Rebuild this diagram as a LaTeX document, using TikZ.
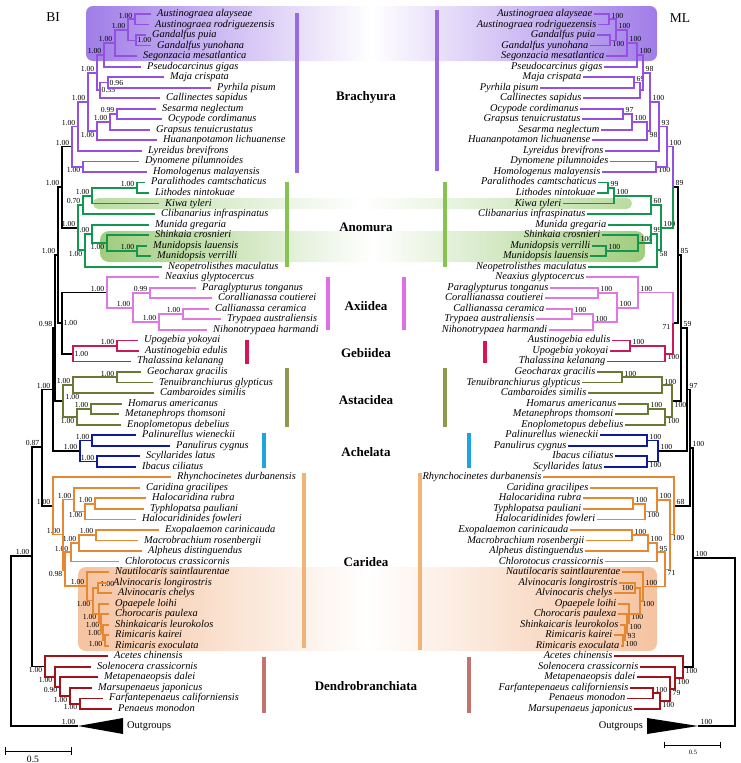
\documentclass[tikz,border=0pt]{standalone}
\usepackage{fontspec}
\setmainfont{Liberation Serif}

\definecolor{cBra}{RGB}{150,80,225}
\definecolor{cAno}{RGB}{20,150,80}
\definecolor{cAxi}{RGB}{225,120,225}
\definecolor{cGeb}{RGB}{200,25,90}
\definecolor{cAst}{RGB}{105,120,50}
\definecolor{cAch}{RGB}{15,25,160}
\definecolor{cCar}{RGB}{230,135,50}
\definecolor{cDen}{RGB}{160,20,25}
\definecolor{barBra}{RGB}{155,105,225}
\definecolor{barAno}{RGB}{135,195,80}
\definecolor{barAxi}{RGB}{225,110,230}
\definecolor{barGeb}{RGB}{215,20,90}
\definecolor{barAst}{RGB}{140,155,75}
\definecolor{barAch}{RGB}{30,165,225}
\definecolor{barCar}{RGB}{240,180,120}
\definecolor{barDen}{RGB}{195,115,110}
\definecolor{boxP}{RGB}{160,125,232}
\definecolor{boxK}{RGB}{185,220,160}
\definecolor{boxS}{RGB}{160,205,125}
\definecolor{boxC}{RGB}{245,195,160}

% internal node of a tree: name, x, y, label place, support value
\newcommand{\inode}[5]{\coordinate (#1) at (#2,#3); \node[lbl,#4] (#1-l) at (#1) {#5};}

\begin{document}
\begin{tikzpicture}[x=1pt,y=-1pt]
\tikzstyle{leafL}=[anchor=west,inner xsep=6pt,inner ysep=0pt,text height=7pt,text depth=2pt,font=\fontsize{10.4}{11}\selectfont\itshape]
\tikzstyle{leafR}=[anchor=east,inner xsep=1.5pt,inner ysep=0pt,text height=7pt,text depth=2pt,font=\fontsize{10.4}{11}\selectfont\itshape]
\tikzstyle{lbl}=[inner sep=0.5pt,font=\fontsize{7.7}{8}\selectfont]
\tikzstyle{lAL}=[anchor=south east,xshift=-2pt,yshift=0.4pt]
\tikzstyle{lBL}=[anchor=north east,xshift=-2pt,yshift=-0.4pt]
\tikzstyle{lAR}=[anchor=south west,xshift=2pt,yshift=0.4pt]
\tikzstyle{lBR}=[anchor=north west,xshift=2pt,yshift=-0.4pt]
\tikzstyle{lR}=[anchor=west,xshift=1pt]
\tikzstyle{lL}=[anchor=east,xshift=-1pt]
\tikzstyle{branch}=[line width=1.8pt]
\tikzstyle{bar}=[line width=4pt]
\tikzstyle{clade}=[font=\fontsize{13}{14}\selectfont\bfseries]
\tikzstyle{ttl}=[font=\fontsize{13.5}{15}\selectfont]
\tikzstyle{outg}=[inner sep=0pt,font=\fontsize{10.4}{11}\selectfont]

\useasboundingbox (0,0) rectangle (740,763);

% highlighted groups
\path[left color=boxP,right color=boxP,middle color=white,rounded corners=7pt] (86,6) rectangle (657,61);
\path[left color=boxK,right color=boxK,middle color=white,rounded corners=5.5pt] (93,198) rectangle (632,209);
\path[left color=boxS,right color=boxS,middle color=white,rounded corners=9pt] (100,231) rectangle (645,262);
\path[left color=boxC,right color=boxC,middle color=white,rounded corners=8pt] (78,567) rectangle (657,651);

% clade bars and names
\draw[bar,barBra] (297,13) -- (297,173);  \draw[bar,barBra] (437,10) -- (437,171);
\draw[bar,barAno] (287,182) -- (287,267); \draw[bar,barAno] (445,182) -- (445,267);
\draw[bar,barAxi] (328,277) -- (328,330); \draw[bar,barAxi] (404,277) -- (404,330);
\draw[bar,barGeb] (247,340) -- (247,364); \draw[bar,barGeb] (485,341) -- (485,363);
\draw[bar,barAst] (287,368) -- (287,427); \draw[bar,barAst] (445,368) -- (445,427);
\draw[bar,barAch] (264,433) -- (264,468); \draw[bar,barAch] (469,433) -- (469,468);
\draw[bar,barCar] (304,473) -- (304,648); \draw[bar,barCar] (420,473) -- (420,650);
\draw[bar,barDen] (264,657) -- (264,713); \draw[bar,barDen] (469,657) -- (469,713);
\node[clade] (nBra) at (366,97) {Brachyura};
\node[clade] (nAno) at (366,227) {Anomura};
\node[clade] (nAxi) at (366,306) {Axiidea};
\node[clade] (nGeb) at (366,353) {Gebiidea};
\node[clade] (nAst) at (366,400) {Astacidea};
\node[clade] (nAch) at (366,452) {Achelata};
\node[clade] (nCar) at (366,562) {Caridea};
\node[clade] (nDen) at (366,686) {Dendrobranchiata};
\node[ttl] (tBI) at (53,17) {BI};
\node[ttl] (tML) at (680,18) {ML};

% BI taxa
\foreach \n/\x/\t [count=\i] in {L1/151/Austinograea alayseae, L2/149/Austinograea rodriguezensis, L3/146/Gandalfus puia,
  L4/151/Gandalfus yunohana, L5/137/Segonzacia mesatlantica, L6/141/Pseudocarcinus gigas, L7/164/Maja crispata,
  L8/211/Pyrhila pisum, L9/160/Callinectes sapidus, L10/156/Sesarma neglectum, L11/162/Ocypode cordimanus,
  L12/150/Grapsus tenuicrustatus, L13/157/Huananpotamon lichuanense, L14/142/Lyreidus brevifrons,
  L15/139/Dynomene pilumnoides, L16/147/Homologenus malayensis, L17/145/Paralithodes camtschaticus,
  L18/149/Lithodes nintokuae, L19/159/Kiwa tyleri, L20/155/Clibanarius infraspinatus, L21/149/Munida gregaria,
  L22/149/Shinkaia crosnieri, L23/147/Munidopsis lauensis, L24/151/Munidopsis verrilli,
  L25/162/Neopetrolisthes maculatus, L26/159/Neaxius glyptocercus, L27/196/Paraglypturus tonganus,
  L28/212/Corallianassa coutierei, L29/209/Callianassa ceramica, L30/221/Trypaea australiensis,
  L31/207/Nihonotrypaea harmandi, L32/138/Upogebia yokoyai, L33/139/Austinogebia edulis, L34/131/Thalassina kelanang,
  L35/141/Geocharax gracilis, L36/153/Tenuibranchiurus glypticus, L37/154/Cambaroides similis,
  L38/122/Homarus americanus, L39/119/Metanephrops thomsoni, L40/121/Enoplometopus debelius,
  L41/136/Palinurellus wieneckii, L42/170/Panulirus cygnus, L43/140/Scyllarides latus, L44/136/Ibacus ciliatus,
  L45/171/Rhynchocinetes durbanensis, L46/140/Caridina gracilipes, L47/146/Halocaridina rubra,
  L48/144/Typhlopatsa pauliani, L49/136/Halocaridinides fowleri, L50/159/Exopalaemon carinicauda,
  L51/138/Macrobrachium rosenbergii, L52/142/Alpheus distinguendus, L53/119/Chlorotocus crassicornis,
  L54/109/Nautilocaris saintlaurentae, L55/107/Alvinocaris longirostris, L56/112/Alvinocaris chelys,
  L57/109/Opaepele loihi, L58/109/Chorocaris paulexa, L59/109/Shinkaicaris leurokolos, L60/109/Rimicaris kairei,
  L61/109/Rimicaris exoculata, L62/108/Acetes chinensis, L63/91/Solenocera crassicornis,
  L64/98/Metapenaeopsis dalei, L65/92/Marsupenaeus japonicus, L66/103/Farfantepenaeus californiensis,
  L67/112/Penaeus monodon}
  \node[leafL] (\n) at (\x,{3.47+10.53*\i}) {\t};

% ML taxa
\foreach \n/\x/\t [count=\i] in {R1/594/Austinograea alayseae, R2/598/Austinograea rodriguezensis, R3/597/Gandalfus puia,
  R4/590/Gandalfus yunohana, R5/606/Segonzacia mesatlantica, R6/604/Pseudocarcinus gigas, R7/583/Maja crispata,
  R8/540/Pyrhila pisum, R9/583/Callinectes sapidus, R10/580/Ocypode cordimanus, R11/582/Grapsus tenuicrustatus,
  R12/601/Sesarma neglectum, R13/592/Huananpotamon lichuanense, R14/605/Lyreidus brevifrons,
  R15/610/Dynomene pilumnoides, R16/602/Homologenus malayensis, R17/598/Paralithodes camtschaticus,
  R18/597/Lithodes nintokuae, R19/563/Kiwa tyleri, R20/587/Clibanarius infraspinatus, R21/608/Munida gregaria,
  R22/602/Shinkaia crosnieri, R23/592/Munidopsis verrilli, R24/590/Munidopsis lauensis,
  R25/588/Neopetrolisthes maculatus, R26/586/Neaxius glyptocercus, R27/550/Paraglypturus tonganus,
  R28/545/Corallianassa coutierei, R29/546/Callianassa ceramica, R30/536/Trypaea australiensis,
  R31/549/Nihonotrypaea harmandi, R32/612/Austinogebia edulis, R33/610/Upogebia yokoyai, R34/607/Thalassina kelanang,
  R35/597/Geocharax gracilis, R36/582/Tenuibranchiurus glypticus, R37/588/Cambaroides similis,
  R38/618/Homarus americanus, R39/615/Metanephrops thomsoni, R40/625/Enoplometopus debelius,
  R41/600/Palinurellus wieneckii, R42/568/Panulirus cygnus, R43/615/Ibacus ciliatus, R44/604/Scyllarides latus,
  R45/543/Rhynchocinetes durbanensis, R46/590/Caridina gracilipes, R47/583/Halocaridina rubra,
  R48/583/Typhlopatsa pauliani, R49/597/Halocaridinides fowleri, R50/570/Exopalaemon carinicauda,
  R51/586/Macrobrachium rosenbergii, R52/585/Alpheus distinguendus, R53/605/Chlorotocus crassicornis,
  R54/622/Nautilocaris saintlaurentae, R55/619/Alvinocaris longirostris, R56/614/Alvinocaris chelys,
  R57/618/Opaepele loihi, R58/618/Chorocaris paulexa, R59/620/Shinkaicaris leurokolos, R60/614/Rimicaris kairei,
  R61/621/Rimicaris exoculata, R62/614/Acetes chinensis, R63/640/Solenocera crassicornis,
  R64/637/Metapenaeopsis dalei, R65/630/Farfantepenaeus californiensis, R66/627/Penaeus monodon,
  R67/634/Marsupenaeus japonicus}
  \node[leafR] (\n) at (\x,{3.47+10.53*\i}) {\t};

% BI nodes
\coordinate (broot) at (11,641);
\inode{bING}{32}{556}{lAL}{1.00}
\inode{bC}{42}{447}{lAL}{0.87}
\inode{bD}{53}{389.5}{lAL}{1.00}
\inode{bP2}{55}{328}{lAL}{0.98}
\inode{bP1}{58}{255}{lAL}{1.00}
\inode{bA}{62}{187}{lAL}{1.00}
\inode{bAG}{62}{323}{lR}{1.00}
\inode{bOut}{78}{726}{lAL}{1.00}
\inode{bBra}{72}{146.5}{lAL}{1.00}
\inode{b1_14}{78}{126.4}{lAL}{1.00}
\inode{b1516}{83}{166.7}{lBL}{1.00}
\inode{b1_13}{88}{101.9}{lAL}{1.00}
\inode{b1_9}{97}{72.6}{lAL}{1.00}
\inode{b10_13}{97}{131.2}{lBL}{1.00}
\inode{b1_6}{104}{54.8}{lAL}{1.00}
\inode{b7_9}{100}{90.3}{lR}{0.55}
\inode{b1_5}{115}{43}{lAL}{1.00}
\inode{b1234}{128}{29.8}{lAL}{1.00}
\inode{b12}{135}{19.3}{lAL}{1.00}
\inode{b34}{136}{40.4}{lR}{1.00}
\inode{b78}{108}{82.5}{lR}{0.96}
\inode{b10_12}{110}{122}{lAL}{1.00}
\inode{b1011}{117}{114}{lAL}{0.99}
\inode{aAno}{78}{227.6}{lAL}{1.00}
\inode{a17_20}{83}{204.9}{lAL}{0.70}
\inode{a17_19}{92}{195.6}{lAL}{1.00}
\inode{a1718}{137}{187.8}{lAL}{1.00}
\inode{a21_25}{85}{250.3}{lBL}{1.00}
\inode{a21_24}{92}{233.8}{lAL}{1.00}
\inode{a22_24}{107}{243}{lBL}{1.00}
\inode{a2324}{137}{251}{lAL}{1.00}
\inode{xAxi}{107}{292.4}{lAL}{1.00}
\inode{x27_31}{133}{307.6}{lAL}{1.00}
\inode{x2728}{150}{293}{lAL}{0.99}
\inode{x29_31}{159}{322.2}{lAL}{1.00}
\inode{x2930}{183}{314.1}{lAL}{1.00}
\inode{gGeb}{73}{353.6}{lR}{1.00}
\inode{g3233}{117}{345.7}{lAL}{1.00}
\inode{tAst}{63}{401}{lAR}{1.00}
\inode{t35_37}{73}{385.2}{lAL}{1.00}
\inode{t3536}{117}{377.3}{lAL}{1.00}
\inode{t38_40}{77}{417}{lBL}{1.00}
\inode{t3839}{91}{408.9}{lAL}{1.00}
\inode{hAch}{80}{451}{lAL}{1.00}
\inode{h4142}{92}{440.5}{lAL}{1.00}
\inode{h4344}{97}{461.5}{lAL}{1.00}
\inode{cCar}{53}{506}{lAL}{1.00}
\inode{cN}{63}{534.5}{lAL}{1.00}
\inode{cAty}{74}{499.4}{lAL}{1.00}
\inode{c47_49}{85}{511.5}{lBL}{1.00}
\inode{c4748}{95}{503.7}{lAL}{1.00}
\inode{cM}{65}{569.8}{lBL}{0.98}
\inode{cPal}{71}{552.3}{lAL}{1.00}
\inode{c50_52}{79}{543.1}{lAL}{1.00}
\inode{c5051}{96}{535.2}{lAL}{1.00}
\inode{cAlv}{87}{586}{lAL}{1.00}
\inode{cX}{93}{600.5}{lBL}{1.00}
\inode{c5556}{98}{587.9}{lAR}{1.00}
\inode{c57_61}{99}{613.6}{lBL}{1.00}
\inode{c58_61}{101}{623.4}{lL,yshift=-1.6pt}{1.00}
\inode{c59_61}{103}{632.6}{lL,yshift=-0.8pt}{1.00}
\inode{c6061}{105}{640.5}{lBL}{1.00}
\inode{dDen}{45}{666.5}{lBL}{1.00}
\inode{d63_67}{55}{676.7}{lBL}{1.00}
\inode{d64_67}{60}{686.6}{lBL}{0.90}
\inode{d65_67}{70}{695.8}{lBL}{1.00}
\inode{d6667}{80}{703.7}{lBL}{1.00}

% ML nodes
\coordinate (rroot) at (735,641);
\inode{rING}{693}{558}{lAR}{100}
\inode{rC}{690}{447.8}{lAR}{100}
\inode{rD}{687}{389.5}{lAR}{97}
\inode{rP2}{681}{328}{lAR}{59}
\inode{rP1}{678}{255}{lAR}{85}
\inode{rBA}{673}{187}{lAR}{89}
\inode{rAG}{673}{323}{lBL}{71}
\inode{rOut}{698}{726}{lAR}{100}
\inode{rBra}{667}{146.5}{lAR}{100}
\inode{r1_14}{659}{126.4}{lAR}{93}
\inode{r1516}{656}{166.7}{lBR}{100}
\inode{r1_13}{650}{101.9}{lAR}{100}
\inode{r1_9}{643}{72.6}{lAR}{98}
\inode{r10_13}{647}{131.2}{lBR}{98}
\inode{r1_6}{637}{54.8}{lAR}{100}
\coordinate (r7_9) at (640,90.3);
\inode{r1_5}{627}{43}{lAR}{100}
\inode{r1_4}{616}{29.8}{lAR}{100}
\inode{r12}{609}{19.3}{lAR}{100}
\inode{r34}{610}{40.4}{lBR}{100}
\inode{r78}{634}{82.5}{lAR}{69}
\inode{r10_12}{632}{122}{lAR}{100}
\inode{r1011}{623}{114}{lAR}{97}
\inode{rAno}{661}{227.6}{lAR}{100}
\inode{r17_20}{651}{204.9}{lAR}{60}
\inode{r17_19}{614}{195.6}{lAR}{100}
\inode{r1718}{608}{187.8}{lAR}{99}
\inode{r21_25}{657}{250.3}{lBR}{58}
\inode{r21_24}{651}{233.8}{lAR}{99}
\inode{r22_24}{638}{243}{lAR}{100}
\inode{r2324}{606}{251}{lAR}{100}
\inode{rAxi}{638}{292.4}{lAR}{100}
\inode{r27_31}{617}{307.6}{lAR}{100}
\inode{r2728}{598}{293}{lAR}{100}
\inode{r29_31}{593}{322.2}{lAR}{100}
\inode{r2930}{572}{314.1}{lAR}{100}
\inode{rGeb}{665}{353.6}{lBR}{100}
\inode{r3233}{630}{345.7}{lAR}{100}
\inode{rAst}{672}{401}{lBR}{100}
\inode{r35_37}{662}{385.2}{lAR}{100}
\inode{r3536}{622}{377.3}{lAR}{100}
\inode{r38_40}{665}{417}{lBR}{100}
\inode{r3839}{648}{408.9}{lAR}{100}
\inode{rAch}{658}{451}{lAR}{100}
\inode{r4142}{647}{440.5}{lAR}{100}
\inode{r4344}{647}{461.5}{lBR}{100}
\inode{rCar}{674}{506}{lAR}{68}
\inode{rN}{670}{534.5}{lBR}{100}
\inode{r46_49}{657}{500}{lAR}{100}
\inode{r47_49}{645}{511.5}{lBR}{100}
\inode{r4748}{633}{503.7}{lAR}{100}
\inode{rM}{665}{569.4}{lBR}{71}
\inode{r50_53}{657}{552.3}{lAR}{95}
\inode{r50_52}{648}{543.1}{lAR}{100}
\inode{r5051}{632}{535.2}{lAR}{100}
\inode{rAlv}{643}{586.5}{lAR}{100}
\inode{r55_61}{640}{600.7}{lBR}{100}
\inode{r5556}{635}{587.9}{lL}{100}
\inode{r57_61}{629}{613.6}{lBR}{100}
\inode{r58_61}{627}{623.4}{lBR}{100}
\inode{r59_61}{625}{632.6}{lBR}{93}
\inode{r6061}{623}{640.5}{lBR}{100}
\inode{rDen}{683}{667.2}{lBR}{100}
\inode{r63_67}{675}{678.1}{lBR}{100}
\inode{r64_67}{670}{689.3}{lBR}{79}
\inode{r65_67}{660}{701.1}{lBR}{100}
\inode{r6566}{653}{693.2}{lAR}{100}

% outgroups
\fill (bOut) -- (123,718) -- (123,734) -- cycle;
\fill (rOut) -- (647,718) -- (647,734) -- cycle;
\node[outg,anchor=west] (oL) at (127,726) {Outgroups};
\node[outg,anchor=east] (oR) at (643,726) {Outgroups};

% BI branches
\foreach \p/\c in {broot/bING, broot/bOut, bING/bC, bING/dDen, bC/bD, bC/cCar, bD/bP2, bD/hAch, bP2/bP1,
  bP2/tAst, bP1/bA, bP1/bAG, bA/bBra, bA/aAno, bAG/xAxi, bAG/gGeb}
  \draw[branch,black] (\p) |- (\c);
\foreach \p/\c in {bBra/b1_14, bBra/b1516, b1_14/b1_13, b1_14/L14, b1_13/b1_9, b1_13/b10_13, b1_9/b1_6, b1_9/b7_9,
  b1_6/b1_5, b1_6/L6, b1_5/b1234, b1_5/L5, b1234/b12, b1234/b34, b12/L1, b12/L2, b34/L3, b34/L4, b7_9/b78, b7_9/L9,
  b78/L7, b78/L8, b10_13/b10_12, b10_13/L13, b10_12/b1011, b10_12/L12, b1011/L10, b1011/L11, b1516/L15, b1516/L16}
  \draw[branch,cBra] (\p) |- (\c);
\foreach \p/\c in {aAno/a17_20, aAno/a21_25, a17_20/a17_19, a17_20/L20, a17_19/a1718, a17_19/L19, a1718/L17,
  a1718/L18, a21_25/a21_24, a21_25/L25, a21_24/L21, a21_24/a22_24, a22_24/L22, a22_24/a2324, a2324/L23, a2324/L24}
  \draw[branch,cAno] (\p) |- (\c);
\foreach \p/\c in {xAxi/L26, xAxi/x27_31, x27_31/x2728, x27_31/x29_31, x2728/L27, x2728/L28, x29_31/x2930,
  x29_31/L31, x2930/L29, x2930/L30}
  \draw[branch,cAxi] (\p) |- (\c);
\foreach \p/\c in {gGeb/g3233, gGeb/L34, g3233/L32, g3233/L33}
  \draw[branch,cGeb] (\p) |- (\c);
\foreach \p/\c in {tAst/t35_37, tAst/t38_40, t35_37/t3536, t35_37/L37, t3536/L35, t3536/L36, t38_40/t3839,
  t38_40/L40, t3839/L38, t3839/L39}
  \draw[branch,cAst] (\p) |- (\c);
\foreach \p/\c in {hAch/h4142, hAch/h4344, h4142/L41, h4142/L42, h4344/L43, h4344/L44}
  \draw[branch,cAch] (\p) |- (\c);
\foreach \p/\c in {cCar/L45, cCar/cN, cN/cAty, cN/cM, cAty/L46, cAty/c47_49, c47_49/c4748, c47_49/L49,
  c4748/L47, c4748/L48, cM/cPal, cM/cAlv, cPal/c50_52, cPal/L53, c50_52/c5051, c50_52/L52, c5051/L50, c5051/L51,
  cAlv/L54, cAlv/cX, cX/c5556, cX/c57_61, c5556/L55, c5556/L56, c57_61/L57, c57_61/c58_61, c58_61/L58,
  c58_61/c59_61, c59_61/L59, c59_61/c6061, c6061/L60, c6061/L61}
  \draw[branch,cCar] (\p) |- (\c);
\foreach \p/\c in {dDen/L62, dDen/d63_67, d63_67/L63, d63_67/d64_67, d64_67/L64, d64_67/d65_67, d65_67/L65,
  d65_67/d6667, d6667/L66, d6667/L67}
  \draw[branch,cDen] (\p) |- (\c);

% ML branches
\foreach \p/\c in {rroot/rING, rroot/rOut, rING/rC, rING/rDen, rC/rD, rC/rCar, rD/rP2, rD/rAch, rP2/rP1,
  rP2/rAst, rP1/rBA, rP1/rAG}
  \draw[branch,black] (\p) |- (\c);
\foreach \p/\c in {rBA/rBra, rBra/r1_14, rBra/r1516, r1_14/r1_13, r1_14/R14, r1_13/r1_9, r1_13/r10_13, r1_9/r1_6,
  r1_9/r7_9, r1_6/r1_5, r1_6/R6, r1_5/r1_4, r1_5/R5, r1_4/r12, r1_4/r34, r12/R1, r12/R2, r34/R3, r34/R4,
  r7_9/r78, r7_9/R9, r78/R7, r78/R8, r10_13/r10_12, r10_13/R13, r10_12/r1011, r10_12/R12, r1011/R10, r1011/R11,
  r1516/R15, r1516/R16}
  \draw[branch,cBra] (\p) |- (\c);
\foreach \p/\c in {rBA/rAno, rAno/r17_20, rAno/r21_25, r17_20/r17_19, r17_20/R20, r17_19/r1718, r17_19/R19,
  r1718/R17, r1718/R18, r21_25/r21_24, r21_25/R25, r21_24/R21, r21_24/r22_24, r22_24/R22, r22_24/r2324,
  r2324/R23, r2324/R24}
  \draw[branch,cAno] (\p) |- (\c);
\foreach \p/\c in {rAG/rAxi, rAxi/R26, rAxi/r27_31, r27_31/r2728, r27_31/r29_31, r2728/R27, r2728/R28,
  r29_31/r2930, r29_31/R31, r2930/R29, r2930/R30}
  \draw[branch,cAxi] (\p) |- (\c);
\foreach \p/\c in {rAG/rGeb, rGeb/r3233, rGeb/R34, r3233/R32, r3233/R33}
  \draw[branch,cGeb] (\p) |- (\c);
\foreach \p/\c in {rAst/r35_37, rAst/r38_40, r35_37/r3536, r35_37/R37, r3536/R35, r3536/R36, r38_40/r3839,
  r38_40/R40, r3839/R38, r3839/R39}
  \draw[branch,cAst] (\p) |- (\c);
\foreach \p/\c in {rAch/r4142, rAch/r4344, r4142/R41, r4142/R42, r4344/R43, r4344/R44}
  \draw[branch,cAch] (\p) |- (\c);
\foreach \p/\c in {rCar/R45, rCar/rN, rN/r46_49, rN/rM, r46_49/R46, r46_49/r47_49, r47_49/r4748, r47_49/R49,
  r4748/R47, r4748/R48, rM/r50_53, rM/rAlv, r50_53/r50_52, r50_53/R53, r50_52/r5051, r50_52/R52, r5051/R50,
  r5051/R51, rAlv/R54, rAlv/r55_61, r55_61/r5556, r55_61/r57_61, r5556/R55, r5556/R56, r57_61/R57,
  r57_61/r58_61, r58_61/R58, r58_61/r59_61, r59_61/R59, r59_61/r6061, r6061/R60, r6061/R61}
  \draw[branch,cCar] (\p) |- (\c);
\foreach \p/\c in {rDen/R62, rDen/r63_67, r63_67/R63, r63_67/r64_67, r64_67/R64, r64_67/r65_67, r65_67/r6566,
  r65_67/R67, r6566/R65, r6566/R66}
  \draw[branch,cDen] (\p) |- (\c);

% scale bars
\draw[|-|,line width=0.8pt] (5,751) -- (72,751);
\node[font=\fontsize{9.6}{10}\selectfont] (sL) at (33,759) {0.5};
\draw[|-|,line width=0.7pt] (664,745) -- (721,745);
\node[font=\fontsize{6.5}{7}\selectfont] (sR) at (693,752) {0.5};
\end{tikzpicture}
\end{document}
